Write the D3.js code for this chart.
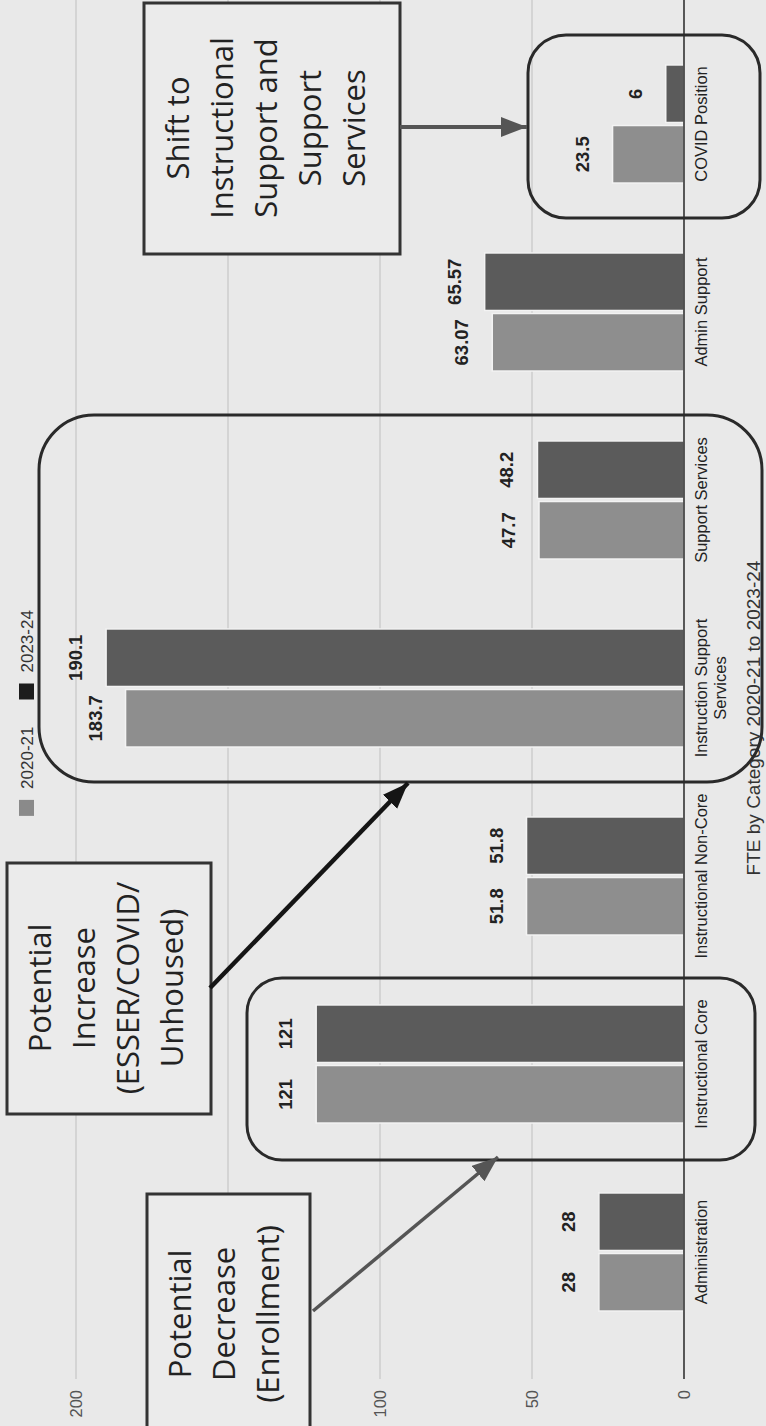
<!DOCTYPE html>
<html lang="en">
<head>
<meta charset="UTF-8">
<title>FTE by Category 2020-21 to 2023-24</title>
<script src="https://d3js.org/d3.v7.min.js"></script>
<style>
body { margin: 0; background: #e9e9e9; }
svg { display: block; }
</style>
</head>
<body>
<svg id="chart" width="766" height="1426"></svg>
<script>
// Data
var categories = ["Administration", "Instructional Core", "Instructional Non-Core",
  "Instruction Support Services", "Support Services", "Admin Support", "COVID Position"];
var fte2020 = [28, 121, 51.8, 183.7, 47.7, 63.07, 23.5];
var fte2023 = [28, 121, 51.8, 190.1, 48.2, 65.57, 6];
var seriesNames = ["2020-21", "2023-24"];
var yTicks = [0, 50, 100, 150, 200];
var chartTitle = "FTE by Category 2020-21 to 2023-24";

var W = 1426, H = 766; // chart drawn landscape, then turned like the scan
var svg = d3.select("#chart");
svg.append("rect").attr("width", 766).attr("height", 1426).attr("fill", "#e9e9e9");

var g = svg.append("g").attr("transform", "translate(0," + W + ") rotate(-90)");

var plot = { left: 47, right: 1430 };
var x0 = d3.scaleBand().domain(categories).range([80, 1396]);
var x1 = d3.scaleBand().domain(seriesNames)
  .range([x0.bandwidth() * 0.186, x0.bandwidth() * 0.814]).paddingInner(0.05);
var y = d3.scaleLinear().domain([0, 200]).range([684, 76]);
var color = d3.scaleOrdinal().domain(seriesNames).range(["#8e8e8e", "#5b5b5b"]);
var legendColor = d3.scaleOrdinal().domain(seriesNames).range(["#8a8a8a", "#1c1c1c"]);

var rows = categories.map(function (c, i) {
  return { cat: c, values: [{ key: seriesNames[0], value: fte2020[i] }, { key: seriesNames[1], value: fte2023[i] }] };
});

// gridlines
g.selectAll("line.grid").data(yTicks.filter(function (t) { return t > 0; }))
  .enter().append("line")
  .attr("x1", plot.left).attr("x2", plot.right)
  .attr("y1", function (d) { return y(d); }).attr("y2", function (d) { return y(d); })
  .attr("stroke", "#c6c6c6").attr("stroke-width", 1.2);

// value axis labels
var yAxis = g.append("g").attr("transform", "translate(" + plot.left + ",0)")
  .call(d3.axisLeft(y).tickValues(yTicks).tickSize(0).tickPadding(11));
yAxis.select(".domain").remove();
yAxis.selectAll("text").attr("font-family", "Liberation Sans, Arial, sans-serif")
  .attr("font-size", 16.5).attr("fill", "#555");

// bars
var groups = g.selectAll("g.cat").data(rows).enter().append("g")
  .attr("transform", function (d) { return "translate(" + x0(d.cat) + ",0)"; });

groups.selectAll("rect").data(function (d) { return d.values; }).enter().append("rect")
  .attr("x", function (d) { return x1(d.key); })
  .attr("y", function (d) { return y(d.value); })
  .attr("width", x1.bandwidth())
  .attr("height", function (d) { return y(0) - y(d.value); })
  .attr("fill", function (d) { return color(d.key); })
  .attr("stroke", "#f3f3f3").attr("stroke-width", 1.5);

groups.selectAll("text.val").data(function (d) { return d.values; }).enter().append("text")
  .attr("x", function (d) { return x1(d.key) + x1.bandwidth() / 2; })
  .attr("y", function (d) { return y(d.value) - 24; })
  .attr("text-anchor", "middle")
  .attr("font-family", "Liberation Sans, Arial, sans-serif")
  .attr("font-weight", "bold").attr("font-size", 18.5).attr("fill", "#222")
  .text(function (d) { return String(d.value); });

// baseline
g.append("line").attr("x1", plot.left).attr("x2", plot.right)
  .attr("y1", y(0)).attr("y2", y(0)).attr("stroke", "#333").attr("stroke-width", 1.6);

// category labels, wrapped when wider than the band
groups.append("text")
  .attr("text-anchor", "middle")
  .attr("font-family", "Liberation Sans, Arial, sans-serif")
  .attr("font-size", 16.5).attr("fill", "#222")
  .each(function (d) {
    var t = d3.select(this), words = d.cat.split(" "), line = [], lineNo = 0;
    var tspan = t.append("tspan").attr("x", x0.bandwidth() / 2).attr("y", 707);
    words.forEach(function (w) {
      line.push(w);
      tspan.text(line.join(" "));
      if (tspan.node().getComputedTextLength() > 196 && line.length > 1) {
        line.pop();
        tspan.text(line.join(" "));
        line = [w];
        lineNo++;
        tspan = t.append("tspan").attr("x", x0.bandwidth() / 2).attr("y", 707 + lineNo * 19).text(w);
      }
    });
  });

// legend
var legend = g.append("g").attr("font-family", "Liberation Sans, Arial, sans-serif").attr("font-size", 17);
var items = legend.selectAll("g").data(seriesNames).enter().append("g");
items.append("rect").attr("width", 16).attr("height", 15).attr("y", 19)
  .attr("fill", function (d) { return legendColor(d); });
items.append("text").attr("x", 27).attr("y", 33).attr("fill", "#333").text(function (d) { return d; });
var widths = [];
items.each(function () { widths.push(this.getBBox().width); });
var total = widths[0] + 27 + widths[1];
var lx = W / 2 - total / 2;
items.attr("transform", function (d, i) {
  var off = lx + (i === 0 ? 0 : widths[0] + 27);
  return "translate(" + off + ",0)";
});

// title
g.append("text").attr("x", 708).attr("y", 760).attr("text-anchor", "middle")
  .attr("font-family", "Liberation Sans, Arial, sans-serif").attr("font-size", 19).attr("fill", "#333")
  .text(chartTitle);

// Annotations added on top of the slide (screen coordinates)
var ann = svg.append("g");
var rounded = [
  { x: 528, y: 35, w: 232, h: 183, r: 38 },
  { x: 39, y: 415, w: 723, h: 367, r: 55 },
  { x: 247, y: 978, w: 508, h: 182, r: 35 }
];
ann.selectAll("rect.round").data(rounded).enter().append("rect")
  .attr("x", function (d) { return d.x; }).attr("y", function (d) { return d.y; })
  .attr("width", function (d) { return d.w; }).attr("height", function (d) { return d.h; })
  .attr("rx", function (d) { return d.r; })
  .attr("fill", "none").attr("stroke", "#2a2a2a").attr("stroke-width", 3);

var boxes = [
  { x: 144, y: 3, w: 256, h: 251, cy: 128, base: 189, lines: ["Shift to", "Instructional", "Support and", "Support", "Services"] },
  { x: 7, y: 863, w: 204, h: 251, cy: 988, base: 51, lines: ["Potential", "Increase", "(ESSER/COVID/", "Unhoused)"] },
  { x: 147, y: 1194, w: 163, h: 250, cy: 1314, base: 191, lines: ["Potential", "Decrease", "(Enrollment)"] }
];
ann.selectAll("rect.box").data(boxes).enter().append("rect")
  .attr("x", function (d) { return d.x; }).attr("y", function (d) { return d.y; })
  .attr("width", function (d) { return d.w; }).attr("height", function (d) { return d.h; })
  .attr("fill", "#ebebeb").attr("stroke", "#333").attr("stroke-width", 3);

ann.selectAll("text.box").data(boxes).enter().append("text")
  .attr("transform", function (d) { return "translate(" + d.base + "," + d.cy + ") rotate(-90)"; })
  .attr("text-anchor", "middle")
  .attr("font-family", "Open Sans, sans-serif").attr("font-size", 31).attr("fill", "#222")
  .each(function (d) {
    var t = d3.select(this);
    d.lines.forEach(function (l, i) {
      t.append("tspan").attr("x", 0).attr("dy", i === 0 ? 0 : 44).text(l);
    });
  });

var arrows = [
  { x1: 400, y1: 127, x2: 527, y2: 127, color: "#555", w: 4 },
  { x1: 210, y1: 988, x2: 408, y2: 783, color: "#151515", w: 4.5 },
  { x1: 313, y1: 1311, x2: 498, y2: 1157, color: "#555", w: 3.5 }
];
var defs = svg.append("defs");
arrows.forEach(function (a, i) {
  defs.append("marker").attr("id", "head" + i)
    .attr("markerUnits", "userSpaceOnUse").attr("markerWidth", 28).attr("markerHeight", 22)
    .attr("refX", 26).attr("refY", 10).attr("orient", "auto")
    .append("path").attr("d", "M0,0 L26,10 L0,20 Z").attr("fill", a.color);
});
ann.selectAll("line.arrow").data(arrows).enter().append("line")
  .attr("x1", function (d) { return d.x1; }).attr("y1", function (d) { return d.y1; })
  .attr("x2", function (d) { return d.x2; }).attr("y2", function (d) { return d.y2; })
  .attr("stroke", function (d) { return d.color; }).attr("stroke-width", function (d) { return d.w; })
  .attr("marker-end", function (d, i) { return "url(#head" + i + ")"; });
</script>
</body>
</html>
